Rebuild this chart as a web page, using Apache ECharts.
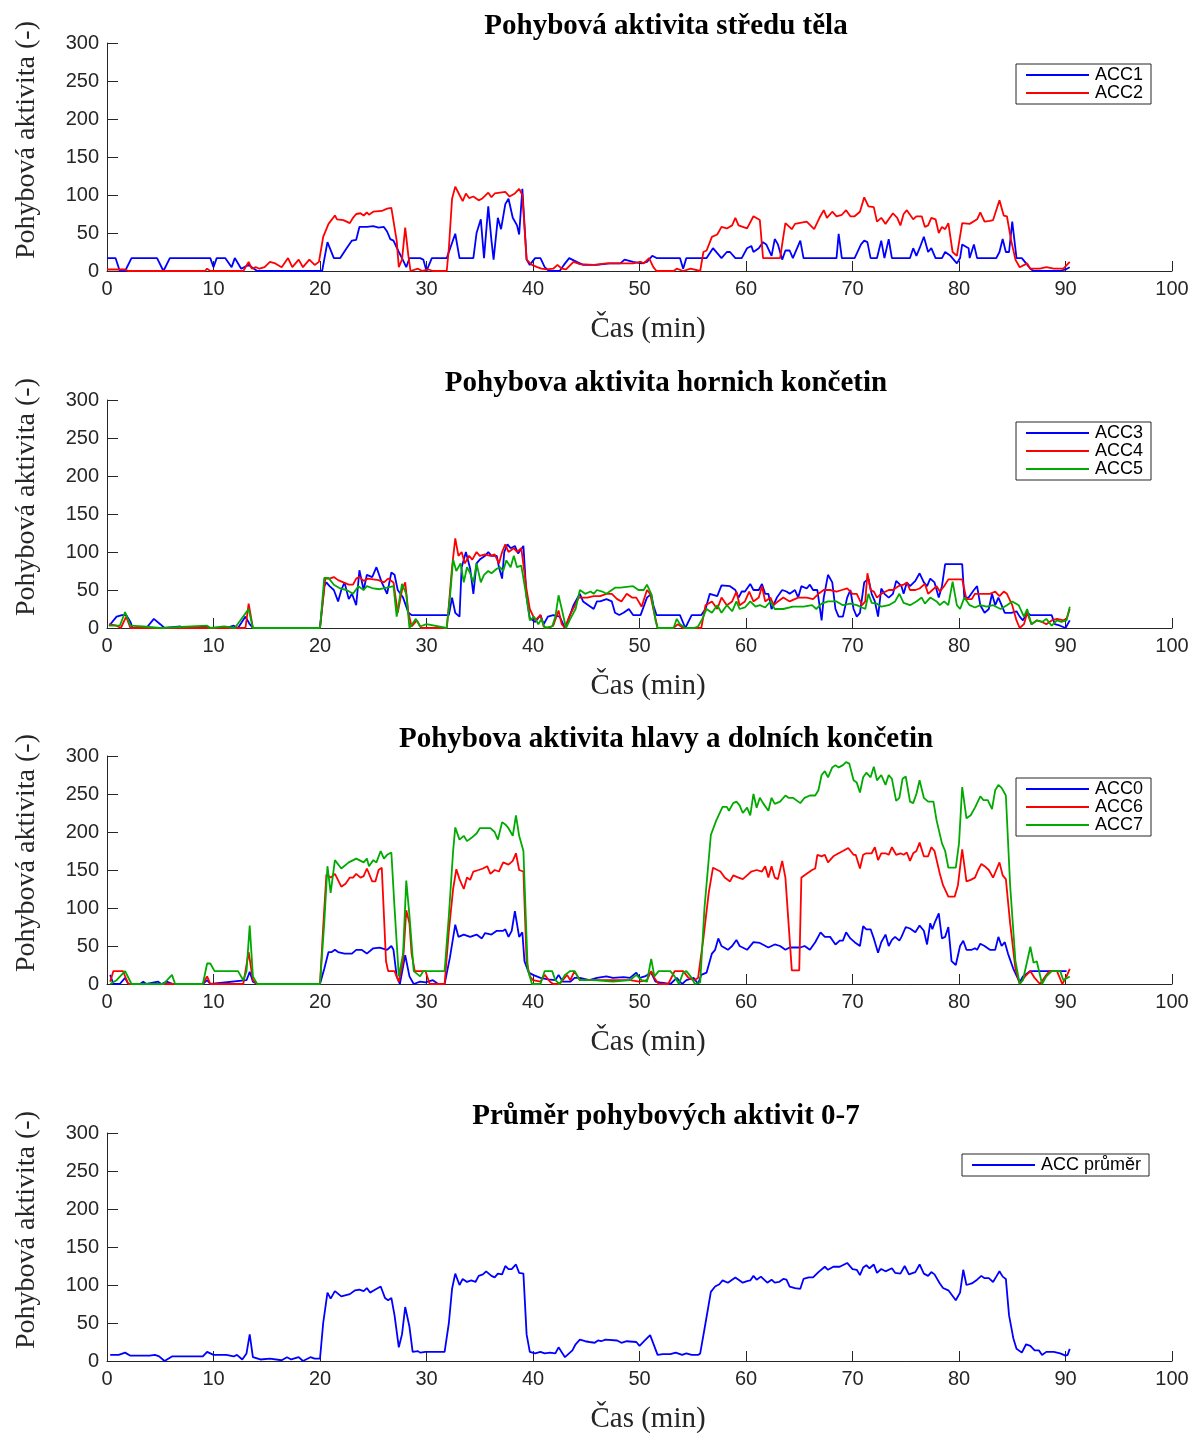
<!DOCTYPE html>
<html>
<head>
<meta charset="utf-8">
<script src="https://cdn.jsdelivr.net/npm/echarts@6/dist/echarts.min.js"></script>
<style>
  html, body { margin: 0; padding: 0; background: #fff; }
  #chart { width: 1192px; height: 1433px; }
</style>
</head>
<body>
<div id="chart"></div>
<script>
// Activity values sampled over time: [time (min), activity (-)]
const acc1 = [[0,17],[0.8,17],[1.2,0],[1.7,0],[2.3,17],[4.7,17],[5.3,0],[5.9,17],[9.7,17],[10,5],[10.3,17],[11.1,17],[11.7,5],[12,17],[12.6,3],[13.3,8],[14.1,0],[20.2,0],[20.7,38],[21.3,17],[21.9,17],[22.5,30],[23,40],[23.4,41],[23.7,58],[24.4,58],[25,59],[25.5,57],[26,58],[26.3,52],[26.6,42],[26.9,40],[27.4,25],[27.7,17],[28.1,5],[28.4,17],[29.4,17],[29.7,15],[30,0],[30.5,17],[31.9,17],[32.7,49],[33.1,17],[34.4,17],[34.7,50],[35.1,68],[35.4,17],[35.8,85],[36.1,40],[36.3,15],[36.7,70],[37,55],[37.4,88],[37.7,95],[38.1,70],[38.5,60],[38.7,48],[39,108],[39.4,15],[39.7,8],[40.2,17],[40.7,17],[41.1,5],[41.5,0],[42.5,0],[42.9,8],[43.4,17],[44.1,12],[44.7,8],[46,8],[47.2,10],[48.2,10],[48.6,15],[49.4,12],[50.2,10],[50.7,12],[51.2,20],[51.6,17],[53.8,17],[54.1,3],[54.4,17],[56.3,17],[56.9,30],[57.7,17],[58.2,25],[58.5,25],[59,17],[59.6,17],[60.1,30],[60.5,33],[60.7,25],[61.2,30],[61.6,38],[61.9,35],[62.4,20],[62.7,42],[63,35],[63.4,15],[63.7,27],[64.1,27],[64.4,17],[65.1,40],[65.4,17],[68.5,17],[68.7,49],[69,17],[70.2,17],[70.8,35],[71.1,40],[71.4,38],[71.7,17],[72.3,17],[72.7,40],[73,17],[73.4,42],[73.7,17],[75.4,17],[75.7,30],[76,20],[76.3,30],[76.7,45],[77.1,25],[77.4,30],[77.8,17],[78.4,17],[78.7,25],[79.2,20],[79.8,10],[80.1,17],[80.3,35],[80.9,30],[81,17],[81.4,35],[81.7,17],[83.5,17],[83.8,25],[84.1,42],[84.4,25],[84.7,25],[85,65],[85.4,17],[85.9,17],[86.3,10],[86.7,3],[87,0],[89.5,0],[90,2],[90.4,5]];

const acc2 = [[0,2],[1.7,2],[2,0],[9.2,0],[9.4,3],[9.7,0],[12.8,0],[13.3,12],[13.6,3],[14,5],[14.3,3],[14.8,5],[15.3,12],[15.8,10],[16.4,5],[17,17],[17.4,5],[18,15],[18.4,5],[19,15],[19.5,8],[19.9,12],[20.3,45],[20.8,62],[21.4,73],[21.6,68],[22.2,67],[22.8,63],[23.1,70],[23.4,75],[23.8,76],[24.1,73],[24.4,77],[24.6,74],[25,78],[25.8,79],[26.3,82],[26.7,83],[27.2,40],[27.4,5],[27.7,15],[28,57],[28.3,20],[28.5,0],[29.2,3],[29.6,0],[30.2,2],[30.6,0],[31.9,0],[32.1,30],[32.4,95],[32.7,111],[33.1,100],[33.4,92],[33.7,102],[34,96],[34.4,98],[34.9,93],[35.2,95],[35.8,103],[36.1,97],[36.4,102],[37.4,104],[37.8,98],[38.3,102],[38.7,108],[39,100],[39.4,15],[39.9,8],[40.4,5],[40.8,3],[41.3,2],[41.9,3],[42.3,8],[42.7,3],[43.1,2],[43.8,12],[44.4,9],[45.7,8],[46.9,10],[48.2,10],[49.4,10],[50.1,12],[50.4,10],[50.9,17],[51.3,5],[51.6,0],[53.2,0],[53.5,3],[54.1,0],[54.8,3],[55.7,0],[56,25],[56.3,27],[56.8,45],[57.3,48],[57.7,58],[58.2,56],[58.7,60],[59,70],[59.3,60],[59.9,57],[60.1,56],[60.7,72],[61.3,67],[61.6,17],[63.2,17],[63.7,63],[64.3,55],[64.6,62],[65.7,65],[66.4,55],[66.9,70],[67.3,80],[67.6,70],[68.1,78],[68.5,72],[69,74],[69.4,80],[69.8,72],[70.2,72],[70.7,78],[71.1,97],[71.5,85],[72,84],[72.3,65],[72.7,70],[73.1,62],[73.4,68],[73.8,76],[74.2,70],[74.5,60],[74.8,75],[75.1,80],[75.7,68],[76,72],[76.5,72],[76.8,58],[77.1,60],[77.4,70],[77.8,68],[78.1,50],[78.4,58],[78.7,55],[79,63],[79.4,25],[79.8,20],[80.3,63],[81,62],[81.7,68],[82,77],[82.4,65],[82.9,66],[83.2,67],[83.8,93],[84.2,73],[84.5,72],[84.9,40],[85.3,15],[85.7,5],[86.4,10],[86.7,3],[87.6,3],[88.2,5],[88.9,3],[89.8,3],[90.4,12]];

const acc3 = [[0.2,3],[0.9,15],[1.4,17],[1.8,17],[2.2,8],[2.4,0],[3.7,0],[4.4,12],[5,5],[5.4,0],[6.9,2],[7.2,0],[9.4,2],[9.7,0],[11.2,0],[11.9,3],[12.3,0],[13,15],[13.4,5],[13.7,0],[20,0],[20.4,55],[20.6,60],[20.9,55],[21.3,50],[21.7,35],[22,50],[22.3,60],[22.7,38],[23,45],[23.4,30],[23.7,76],[24.1,50],[24.4,70],[24.9,67],[25.3,80],[25.8,60],[26.3,45],[26.7,73],[27,70],[27.3,50],[27.8,40],[28.3,20],[28.6,17],[32.1,17],[32.4,40],[32.7,20],[33.1,15],[33.3,80],[33.7,100],[34.1,78],[34.4,45],[34.7,85],[35,90],[35.5,95],[35.8,100],[36.1,95],[36.6,95],[36.8,80],[37.1,65],[37.3,100],[37.6,110],[37.9,105],[38.3,108],[38.6,98],[39.1,108],[39.4,40],[39.7,13],[40.2,8],[40.7,17],[41,5],[41.4,15],[41.9,17],[42.5,15],[43,0],[43.3,10],[43.8,30],[44.4,45],[44.7,35],[45.2,30],[45.7,25],[46,35],[46.3,35],[46.9,38],[47.4,35],[47.7,20],[48.1,17],[48.5,20],[49,25],[49.4,17],[50.1,17],[50.7,40],[51.1,45],[51.3,30],[51.6,17],[53.8,17],[54.3,0],[54.4,0],[54.9,17],[55.8,17],[56.2,25],[56.6,45],[57.3,42],[57.7,56],[58.5,55],[59,50],[59.3,40],[59.6,48],[59.9,48],[60.4,58],[60.7,50],[61.2,50],[61.5,58],[61.8,45],[62.1,45],[62.4,25],[62.9,40],[63.4,50],[63.8,48],[64.1,45],[64.6,50],[64.9,40],[65.2,55],[65.7,52],[66,57],[66.3,50],[66.7,50],[67.1,10],[67.3,40],[67.7,70],[68.1,60],[68.4,25],[68.7,15],[69.1,15],[69.5,40],[69.8,50],[70.1,25],[70.4,15],[70.7,20],[71.1,60],[71.5,65],[71.8,45],[72.1,35],[72.4,15],[72.7,52],[73,45],[73.4,40],[73.8,45],[74.1,62],[74.6,55],[74.8,45],[75.1,60],[75.4,55],[75.9,62],[76.3,72],[76.7,60],[77,55],[77.3,65],[77.7,60],[78.1,40],[78.4,55],[78.7,84],[80.3,84],[80.5,40],[80.9,40],[81.4,50],[81.7,55],[82,30],[82.4,20],[82.8,25],[83.1,45],[83.4,30],[83.7,40],[84,30],[84.3,20],[84.9,20],[85.4,22],[85.7,15],[86,10],[86.4,20],[86.7,17],[88.7,17],[89,5],[89.5,3],[90,0],[90.4,10]];

const acc4 = [[0.2,5],[0.9,3],[1.3,0],[1.8,15],[2.2,0],[13,0],[13.3,32],[13.7,0],[20,0],[20.5,65],[20.9,65],[21.3,67],[21.7,63],[22.2,60],[22.7,57],[23.1,57],[23.4,65],[23.7,67],[24.1,62],[24.5,65],[25,64],[25.5,63],[26,60],[26.4,65],[26.9,60],[27.3,20],[27.7,50],[28,60],[28.3,20],[28.6,2],[29.1,10],[29.5,0],[31.9,0],[32.1,30],[32.4,80],[32.7,118],[33,95],[33.3,100],[33.6,85],[34,95],[34.3,90],[34.7,100],[35,95],[35.5,97],[36,95],[36.4,97],[36.8,85],[37.1,100],[37.4,110],[37.7,100],[38.2,105],[38.5,100],[38.9,105],[39.4,50],[39.7,25],[40.2,10],[40.7,17],[41,2],[41.4,0],[41.9,3],[42.4,23],[42.7,5],[43,0],[43.4,15],[44.3,40],[45.1,40],[45.7,42],[46.3,42],[46.9,45],[47.4,45],[47.9,38],[48.3,35],[48.8,45],[49.3,40],[49.7,40],[50.2,28],[50.7,50],[51,45],[51.3,25],[51.7,0],[53.2,0],[53.6,5],[54.1,0],[55.8,0],[56.2,30],[56.8,35],[57.3,25],[57.7,40],[58.2,30],[58.7,35],[59.1,48],[59.4,30],[59.9,35],[60.3,48],[60.7,35],[61.2,40],[61.5,55],[61.8,35],[62.3,40],[62.6,30],[63,35],[63.5,40],[64.1,35],[64.9,40],[65.7,40],[66.3,38],[66.8,45],[67.3,50],[67.9,50],[68.5,48],[69,50],[69.5,52],[70,45],[70.4,45],[70.9,30],[71.2,35],[71.4,72],[71.7,50],[72,48],[72.3,40],[72.7,45],[73.4,50],[73.8,50],[74.3,55],[74.8,57],[75.1,60],[75.4,50],[75.9,50],[76.3,52],[76.8,58],[77.1,45],[77.5,50],[77.9,55],[78.2,48],[78.6,55],[79,64],[80.3,64],[80.7,38],[81.2,38],[81.5,45],[82,45],[82.4,45],[82.9,45],[83.4,48],[83.8,42],[84.2,48],[84.5,45],[85,30],[85.4,10],[85.7,0],[86.1,5],[86.4,20],[86.8,5],[87.3,10],[87.8,8],[88.2,5],[88.7,10],[89.2,12],[89.8,10],[90.1,12],[90.4,25]];

const acc5 = [[0.2,3],[1.2,3],[1.7,21],[2.2,3],[3.4,2],[5,0],[9.4,3],[9.7,0],[11,2],[12,0],[13.3,25],[13.7,0],[20,0],[20.4,66],[20.8,66],[21.3,57],[21.9,52],[22.5,50],[23.1,45],[23.6,55],[24.1,50],[24.4,55],[25,52],[25.6,51],[26.3,53],[26.9,55],[27.2,15],[27.7,58],[28.1,45],[28.4,0],[29,12],[29.4,2],[30,5],[31.9,0],[32.2,40],[32.5,90],[32.8,75],[33.2,85],[33.5,60],[33.8,80],[34.1,72],[34.4,60],[34.7,85],[35.1,60],[35.4,70],[35.8,75],[36.1,72],[36.6,78],[36.9,80],[37.2,75],[37.5,89],[37.9,80],[38.2,95],[38.5,80],[38.9,82],[39.4,40],[39.7,10],[40.1,15],[40.5,5],[40.8,12],[41.1,0],[41.8,2],[42.1,15],[42.4,43],[42.7,25],[43.1,0],[43.5,12],[44,25],[44.4,50],[44.9,45],[45.4,48],[45.7,45],[46,50],[46.5,48],[46.9,45],[47.4,50],[47.7,53],[48.2,53],[49.4,55],[49.9,50],[50.4,50],[50.7,57],[51.1,45],[51.5,10],[51.7,0],[53.2,0],[53.5,12],[53.8,5],[54.3,0],[55.1,0],[55.5,2],[55.9,12],[56.3,25],[56.8,20],[57.3,30],[57.7,20],[58.2,30],[58.7,22],[59.1,35],[59.4,25],[59.9,27],[60.4,35],[60.9,28],[61.3,30],[61.8,27],[62.3,35],[62.7,25],[63.5,25],[64.4,28],[65.4,28],[66.2,30],[66.6,25],[67.1,32],[67.7,35],[68.5,35],[69.1,30],[69.8,32],[70.4,30],[70.9,27],[71.2,25],[71.5,45],[71.8,33],[72.3,32],[72.7,28],[73.4,30],[74,35],[74.4,45],[74.8,33],[75.4,30],[76,35],[76.5,40],[76.8,32],[77.3,40],[77.9,35],[78.2,30],[78.6,35],[79,30],[79.4,61],[79.8,30],[80.1,25],[80.5,40],[81,30],[81.5,27],[82,30],[82.6,28],[83.2,30],[83.9,25],[84.5,30],[85,35],[85.6,30],[86.1,15],[86.4,25],[86.8,5],[87.3,10],[87.8,8],[88.2,12],[88.7,3],[89.2,10],[89.6,8],[90.1,10],[90.4,28]];

const acc0 = [[0.3,12],[0.6,0],[1.2,0],[1.7,8],[2,0],[3.1,0],[3.4,3],[3.7,0],[4.8,3],[5.1,0],[5.6,3],[6.2,0],[9,0],[9.4,5],[9.7,0],[13.1,5],[13.4,16],[13.7,3],[14.1,0],[20,0],[20.4,20],[20.8,42],[21.1,42],[21.4,45],[21.7,42],[22.3,40],[23,40],[23.4,45],[23.9,45],[24.4,40],[25,47],[25.6,48],[26.3,45],[26.7,50],[26.9,45],[27.2,10],[27.5,0],[28,38],[28.4,10],[28.8,0],[29.4,3],[29.9,2],[30.6,5],[31.1,0],[31.7,0],[32.2,35],[32.7,78],[33,62],[33.5,65],[34.1,62],[34.7,65],[35.2,60],[35.5,67],[36.1,65],[36.6,70],[37.2,70],[37.4,72],[37.7,62],[38,70],[38.3,96],[38.7,62],[39,68],[39.2,30],[39.6,15],[40,12],[40.7,8],[41.4,6],[42.1,5],[42.4,12],[42.8,3],[43.5,3],[43.9,8],[44.4,8],[45.3,5],[46,8],[46.9,10],[47.5,8],[48.5,9],[49.1,8],[49.7,15],[50,8],[50.5,10],[51.1,15],[51.5,3],[51.9,2],[52.9,0],[53.5,8],[54,0],[54.4,5],[55.1,8],[55.5,0],[55.8,12],[56.3,15],[56.8,40],[57.1,45],[57.4,60],[57.7,50],[58.3,45],[58.7,50],[59.1,58],[59.4,50],[60.1,45],[60.7,55],[61.3,54],[62.1,48],[62.7,52],[63.2,50],[63.7,45],[64.1,48],[65.1,48],[65.5,50],[66,45],[66.5,55],[67,68],[67.4,62],[67.9,62],[68.4,52],[68.8,57],[69.1,57],[69.4,68],[69.8,60],[70.2,55],[70.7,50],[71,76],[71.3,72],[71.7,72],[72,60],[72.4,41],[72.7,55],[73.1,65],[73.4,50],[73.7,58],[74,62],[74.4,57],[74.6,62],[75,75],[75.4,73],[75.9,68],[76.3,77],[76.7,70],[77,52],[77.3,80],[77.5,72],[77.7,80],[78.1,93],[78.4,60],[78.7,62],[79,75],[79.3,30],[79.7,25],[80.1,50],[80.4,57],[80.7,45],[81.2,45],[81.5,47],[81.7,45],[82,53],[82.4,50],[82.9,45],[83.4,45],[83.7,62],[84,50],[84.3,55],[84.6,40],[85.1,20],[85.6,5],[85.7,2],[86,10],[86.7,17],[90.1,17]];

const acc6 = [[0.3,3],[0.6,17],[1.5,17],[2,0],[9,0],[9.4,10],[9.7,0],[12.8,0],[13.3,42],[13.7,5],[14.1,0],[20,0],[20.3,75],[20.6,144],[21,140],[21.4,145],[22,128],[22.4,132],[22.8,140],[23.1,140],[23.4,145],[23.8,140],[24.1,142],[24.4,152],[24.9,135],[25.2,135],[25.5,150],[25.8,153],[26.2,30],[26.4,17],[27,17],[27.4,3],[27.8,30],[28.1,97],[28.4,80],[28.6,40],[28.9,17],[29.9,17],[30.3,0],[31.7,0],[32.1,70],[32.5,125],[32.8,151],[33.1,138],[33.5,125],[33.8,140],[34.1,137],[34.4,148],[34.9,150],[35.3,152],[35.7,155],[36,145],[36.4,150],[36.8,148],[37.2,160],[37.7,157],[38.1,162],[38.4,172],[38.7,150],[39.1,148],[39.4,30],[39.7,10],[40,5],[40.7,3],[41.1,12],[41.6,3],[41.9,0],[42.5,0],[43.2,12],[43.5,5],[43.9,17],[44.4,5],[46,5],[47.5,5],[49.1,5],[50,3],[50.7,5],[51.1,17],[51.4,8],[51.8,0],[52.7,0],[53.3,17],[54.1,17],[54.6,8],[55.1,5],[55.5,8],[56,60],[56.5,120],[56.9,153],[57.6,148],[58,140],[58.5,135],[58.8,143],[59.3,140],[59.7,138],[60.1,143],[60.5,148],[61,150],[61.5,148],[61.8,155],[62.1,140],[62.4,155],[62.7,140],[63,138],[63.4,162],[63.7,140],[64.3,18],[65,18],[65.2,140],[65.7,145],[66.2,150],[66.5,152],[66.7,170],[67.1,168],[67.4,170],[67.7,160],[68.2,168],[68.7,172],[69.1,175],[69.6,179],[70.1,170],[70.3,170],[70.7,152],[71,170],[71.3,172],[71.8,172],[72.1,180],[72.4,163],[72.7,172],[73.1,172],[73.4,170],[73.7,180],[74.1,170],[74.5,172],[74.8,170],[75.1,173],[75.4,162],[75.7,172],[76,175],[76.3,186],[76.7,168],[77.1,168],[77.4,180],[77.7,175],[78.2,145],[78.5,130],[79,115],[79.6,115],[79.9,130],[80.3,177],[80.7,135],[81.1,137],[81.5,140],[81.8,150],[82.1,158],[82.4,155],[82.8,150],[83.2,140],[83.5,150],[83.8,160],[84.1,143],[84.4,138],[84.8,80],[85.3,20],[85.7,0],[86.2,10],[86.7,17],[87.1,8],[87.6,0],[88.1,10],[88.5,17],[89.2,17],[89.7,0],[90.1,10],[90.4,20]];

const acc7 = [[0.3,0],[0.9,5],[1.7,17],[2.3,0],[5.3,0],[6.1,12],[6.4,0],[9,0],[9.4,27],[9.7,27],[10.1,17],[12.3,17],[12.8,5],[13.1,17],[13.4,77],[13.7,10],[14.1,0],[20,0],[20.4,80],[20.7,155],[21,120],[21.4,163],[22,152],[22.7,160],[23.4,165],[24.1,160],[24.4,165],[24.6,155],[25,163],[25.3,160],[25.7,175],[26,165],[26.3,170],[26.7,173],[27,100],[27.4,10],[27.8,40],[28.1,136],[28.4,90],[28.8,17],[29.4,10],[29.7,17],[31.7,17],[32.1,90],[32.5,175],[32.7,206],[33.1,190],[33.5,195],[33.8,188],[34.2,192],[34.7,198],[35,205],[35.5,205],[36,205],[36.4,200],[36.7,190],[37.1,213],[37.4,210],[37.7,205],[38.1,195],[38.4,222],[38.7,195],[39.1,175],[39.5,20],[39.9,0],[40.7,0],[41.1,17],[41.8,17],[42.1,5],[42.5,0],[43,12],[43.5,17],[43.9,17],[44.4,5],[45.7,5],[47.5,3],[49.1,5],[49.7,12],[50.2,5],[50.7,3],[51.1,33],[51.4,10],[51.8,17],[52.9,17],[53.3,10],[53.7,0],[54.1,15],[54.4,17],[54.9,8],[55.2,0],[55.7,2],[56.1,100],[56.7,196],[57.2,215],[57.8,233],[58.2,233],[58.4,228],[58.8,238],[59.1,240],[59.4,235],[59.7,225],[60.1,232],[60.4,222],[60.7,250],[61,232],[61.3,245],[61.6,238],[62.1,228],[62.4,245],[62.7,237],[63.2,240],[63.7,248],[64,245],[64.4,245],[65.1,238],[65.5,245],[66,248],[66.5,248],[66.8,255],[67.1,275],[67.4,280],[67.7,272],[68.1,285],[68.4,288],[68.7,285],[69.1,288],[69.4,292],[69.7,290],[70.1,268],[70.4,265],[70.7,252],[71,272],[71.3,278],[71.7,272],[72,286],[72.3,268],[72.7,275],[73.1,262],[73.4,275],[73.7,270],[74.1,241],[74.4,245],[74.7,270],[75,273],[75.4,240],[75.7,238],[76,250],[76.3,268],[76.7,245],[77.1,240],[77.6,240],[77.9,215],[78.4,185],[78.7,175],[79,153],[79.7,153],[80,185],[80.3,259],[80.7,218],[81.1,222],[81.5,232],[82,247],[82.3,242],[82.7,242],[83.1,230],[83.4,255],[83.7,262],[84,258],[84.4,248],[84.8,130],[85.3,30],[85.7,0],[86,5],[86.4,30],[86.7,49],[87,28],[87.3,30],[87.8,0],[88.2,10],[88.7,17],[89.5,17],[89.8,5],[90.4,10]];

const accMean = [[0.3,8],[1.1,8],[1.7,11],[2.2,7],[4,7],[4.5,8],[4.9,6],[5.4,0],[6.1,6],[9,6],[9.4,12],[9.7,10],[10,8],[11.2,8],[11.9,6],[12.2,8],[12.7,2],[13.1,10],[13.4,35],[13.7,5],[14.4,2],[15.3,3],[16.4,1],[16.9,5],[17.3,2],[18,5],[18.4,0],[19.1,5],[19.5,3],[20,3],[20.3,50],[20.7,90],[21,82],[21.4,92],[22,85],[22.8,88],[23.3,93],[23.7,94],[24.1,92],[24.4,96],[24.7,90],[25.2,94],[25.7,98],[26.1,83],[26.4,80],[26.7,83],[27,60],[27.4,18],[27.7,35],[28,71],[28.4,45],[28.7,12],[29.2,13],[29.4,11],[29.9,12],[31.7,12],[32.1,50],[32.4,95],[32.7,115],[33.1,100],[33.4,108],[33.8,104],[34.2,106],[34.6,104],[34.9,112],[35.3,114],[35.6,118],[36.1,112],[36.4,110],[36.7,115],[37.1,114],[37.4,125],[37.7,121],[38,121],[38.4,127],[38.7,116],[39.1,115],[39.4,35],[39.7,12],[40.2,10],[40.7,12],[41.1,10],[41.6,11],[42.1,10],[42.4,18],[43,5],[43.7,14],[44,22],[44.4,28],[44.9,26],[45.3,25],[45.8,24],[46.1,27],[46.4,26],[46.8,28],[47.9,27],[48.3,24],[48.8,26],[49.7,25],[50,20],[50.5,27],[51,34],[51.7,8],[52.2,9],[52.9,9],[53.4,11],[54,8],[54.4,10],[54.9,8],[55.5,8],[55.7,10],[56.2,50],[56.7,91],[57.1,98],[57.5,101],[57.8,106],[58.3,103],[59,110],[59.7,103],[60.1,105],[60.4,106],[60.7,112],[61,107],[61.4,111],[62,103],[62.4,107],[62.7,103],[63.1,104],[63.5,108],[63.8,107],[64.1,98],[64.6,96],[65.1,95],[65.4,108],[65.9,110],[66.3,110],[66.8,117],[67.4,124],[67.7,120],[68.2,124],[68.8,124],[69.5,129],[70,121],[70.4,120],[70.7,113],[71,123],[71.3,126],[71.6,122],[72,127],[72.3,116],[72.7,121],[73.1,118],[73.7,122],[74,116],[74.5,115],[74.9,125],[75.3,114],[75.9,117],[76.3,127],[76.7,115],[77.1,112],[77.4,117],[77.7,114],[78.2,102],[78.5,96],[79,93],[79.7,80],[80.1,90],[80.4,120],[80.7,100],[81.2,102],[81.7,107],[82.1,112],[82.4,109],[82.8,109],[83.2,104],[83.5,111],[83.8,118],[84.1,111],[84.4,108],[84.7,60],[85.1,30],[85.4,16],[85.9,11],[86.3,22],[86.7,20],[87.1,14],[87.5,14],[87.8,8],[88.2,12],[88.9,12],[89.5,10],[90,7],[90.2,8],[90.4,16]];

// Panel titles, axis captions and series per panel
const panelTitles = [
  'Pohybová aktivita středu těla',
  'Pohybova aktivita hornich končetin',
  'Pohybova aktivita hlavy a dolních končetin',
  'Průměr pohybových aktivit 0-7'
];
const yCaption = 'Pohybová aktivita (-)';
const xCaption = 'Čas (min)';
const xTicks = { min: 0, max: 100, step: 10 };
const yTicks = { min: 0, max: 300, step: 50 };

const BLUE = '#0000ff', RED = '#ff0000', GREEN = '#00aa00';
const panels = [
  { series: [['ACC1', acc1, BLUE], ['ACC2', acc2, RED]] },
  { series: [['ACC3', acc3, BLUE], ['ACC4', acc4, RED], ['ACC5', acc5, GREEN]] },
  { series: [['ACC0', acc0, BLUE], ['ACC6', acc6, RED], ['ACC7', acc7, GREEN]] },
  { series: [['ACC průměr', accMean, BLUE]] }
];

// Layout of the four stacked axes
const gridTops = [43, 400, 756, 1133];
const gridH = 228, gridLeft = 107, gridW = 1065;
const legendBoxes = [
  { left: 1016, top: 64 },
  { left: 1016, top: 422 },
  { left: 1016, top: 778 },
  { left: 962, top: 1154 }
];

const AX = '#262626';
const sans = '"Liberation Sans", Arial, Helvetica, sans-serif';
const serif = '"Liberation Serif", "Times New Roman", serif';

const grids = [], xAxes = [], yAxes = [], series = [], legends = [], graphics = [];
panels.forEach((p, i) => {
  grids.push({ left: gridLeft, top: gridTops[i], width: gridW, height: gridH, containLabel: false });
  xAxes.push({
    type: 'value', gridIndex: i, min: xTicks.min, max: xTicks.max, interval: xTicks.step,
    axisLine: { show: true, onZero: false, lineStyle: { color: AX, width: 1 } },
    axisTick: { show: true, inside: true, length: 10, lineStyle: { color: AX, width: 1 } },
    axisLabel: { color: AX, fontSize: 20, fontFamily: sans, margin: 8 },
    splitLine: { show: false }
  });
  yAxes.push({
    type: 'value', gridIndex: i, min: yTicks.min, max: yTicks.max, interval: yTicks.step,
    axisLine: { show: true, onZero: false, lineStyle: { color: AX, width: 1 } },
    axisTick: { show: true, inside: true, length: 11, lineStyle: { color: AX, width: 1 } },
    axisLabel: { color: AX, fontSize: 20, fontFamily: sans, margin: 8 },
    splitLine: { show: false }
  });
  p.series.forEach(([name, data, color]) => {
    series.push({
      name, type: 'line', xAxisIndex: i, yAxisIndex: i, data,
      showSymbol: false, symbol: 'none', animation: false,
      lineStyle: { color, width: 1.8 }, itemStyle: { color }
    });
  });
  legends.push({
    data: p.series.map(s => s[0]),
    orient: 'vertical', left: legendBoxes[i].left, top: legendBoxes[i].top,
    padding: [2, 8, 2, 10], itemGap: 0, itemWidth: 63, itemHeight: 2,
    icon: 'rect', selectedMode: false,
    borderColor: AX, borderWidth: 1, backgroundColor: '#fff',
    textStyle: { color: '#000', fontSize: 18, fontFamily: sans, lineHeight: 17, padding: [0, 0, 0, 1] }
  });
  const top = gridTops[i];
  graphics.push({
    type: 'text', x: 666, y: top - 16,
    style: { text: panelTitles[i], align: 'center', verticalAlign: 'middle',
             font: 'bold 29px ' + serif, fill: '#000' }
  });
  graphics.push({
    type: 'text', x: 27, y: top + gridH / 2 - 17, rotation: Math.PI / 2,
    style: { text: yCaption, align: 'center', verticalAlign: 'middle',
             font: '28px ' + serif, fill: AX }
  });
  graphics.push({
    type: 'text', x: 648, y: top + gridH + 58,
    style: { text: xCaption, align: 'center', verticalAlign: 'middle',
             font: '29px ' + serif, fill: AX }
  });
});

const chart = echarts.init(document.getElementById('chart'), null, { renderer: 'canvas' });
chart.setOption({
  backgroundColor: '#fff',
  animation: false,
  grid: grids, xAxis: xAxes, yAxis: yAxes,
  series, legend: legends, graphic: graphics
});
</script>
</body>
</html>
